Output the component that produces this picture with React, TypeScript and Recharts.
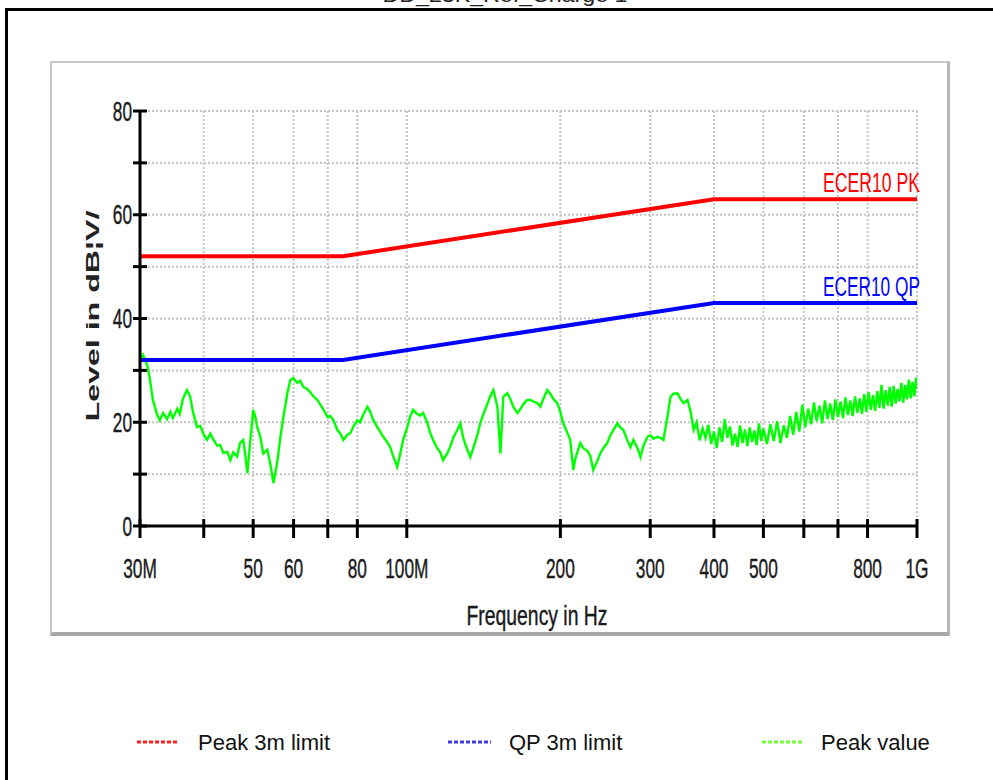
import React from "react";
import { LineChart, Line, XAxis, YAxis, CartesianGrid } from "recharts";

// axis ticks
const freqTicks = [30, 40, 50, 60, 70, 80, 100, 200, 300, 400, 500, 600, 700, 800, 1000];
const freqTickLabels: Record<number, string> = {
  30: "30M", 50: "50", 60: "60", 80: "80", 100: "100M",
  200: "200", 300: "300", 400: "400", 500: "500", 800: "800", 1000: "1G",
};
const levelTicks = [0, 10, 20, 30, 40, 50, 60, 70, 80];
const levelLabels = [0, 20, 40, 60, 80];

// ECE R10 limits (MHz, dBµV/m)
const limitFreqs = [30, 75, 400, 1000];
const peakLimit = [52, 52, 63, 63];
const qpLimit = [32, 32, 43, 43];

// measured peak trace (MHz)
const peakFreqs = [
  30.0, 30.4, 31.0, 31.4, 31.8, 32.4, 32.8, 33.3, 33.9, 34.4,
  34.8, 35.5, 35.9, 36.4, 37.1, 37.6, 38.1, 38.8, 39.4, 39.9,
  40.6, 41.2, 41.7, 42.5, 43.1, 43.7, 44.5, 45.1, 45.7, 46.5,
  47.1, 47.8, 48.2, 48.7, 49.3, 50.0, 50.5, 50.9, 51.6, 52.3,
  53.3, 54.0, 54.8, 55.8, 56.5, 57.3, 58.3, 59.1, 59.9, 61.0,
  61.8, 62.7, 63.8, 64.7, 65.6, 66.8, 67.7, 68.6, 69.9, 70.8,
  71.8, 73.1, 74.1, 75.1, 76.5, 77.5, 78.6, 80.0, 81.0, 82.2,
  83.7, 84.8, 85.9, 87.5, 88.7, 89.9, 91.5, 92.8, 94.0, 95.8,
  97.1, 98.4, 100.2, 101.6, 102.9, 104.8, 106.2, 107.7, 109.6, 111.1,
  112.6, 114.7, 116.3, 117.8, 120.0, 121.6, 123.3, 125.6, 127.3, 129.0,
  131.4, 133.2, 135.0, 137.5, 139.3, 141.2, 143.8, 145.8, 147.8, 150.5,
  152.6, 154.6, 157.4, 159.6, 161.7, 164.7, 166.9, 169.2, 172.3, 174.6,
  177.0, 180.2, 182.7, 185.2, 188.5, 191.1, 193.7, 197.2, 199.9, 202.6,
  206.3, 209.1, 212.0, 214.0, 218.8, 221.8, 225.8, 228.9, 232.0, 236.2,
  239.5, 242.8, 247.2, 250.6, 254.0, 258.6, 262.2, 265.8, 270.6, 274.4,
  278.1, 283.2, 287.1, 291.0, 296.3, 300.3, 304.4, 309.9, 314.1, 318.4,
  324.2, 328.7, 333.2, 339.2, 343.9, 348.6, 355.0,
  360, 365, 370, 375, 380, 385, 390, 395, 400, 405,
  410, 415, 420, 425, 430, 435, 440, 445, 450, 455,
  460, 465, 470, 475, 480, 485, 490, 495, 500,
  508, 516, 524, 532, 540, 548, 556, 564, 572, 580,
  588, 596, 604, 612, 620, 628, 636, 644, 652, 660,
  668, 676, 684, 692, 700, 708, 716, 724, 732, 740,
  748, 756, 764, 772, 780, 788, 796, 804, 812, 820,
  828, 836, 844, 852, 860, 868, 876, 884, 892, 900,
  908, 916, 924, 932, 940, 948, 956, 964, 972, 980,
  988, 996, 1000,
];
const peakLevels = [
  32, 33, 31, 28, 24.3, 21.5, 20.4, 21.8, 20.6, 22,
  20.8, 22.6, 21.6, 24.5, 26.2, 25, 22, 19.1, 19.3, 17.8,
  16.6, 17.8, 16.8, 15.5, 15.6, 14.1, 14.3, 12.7, 14.2, 13.4,
  16, 16.6, 14, 10.2, 16, 22.4, 21, 19.1, 17.4, 14,
  14.7, 12, 8.3, 12.7, 17, 21, 25.5, 28.1, 28.5, 27.6,
  28, 26.8, 26.4, 25.8, 25, 24.3, 23.4, 22.5, 21, 21.2,
  20.4, 18.5, 17.8, 16.6, 17.6, 17.9, 19.2, 20.4, 20, 21.5,
  23, 22, 20.5, 19.1, 18.2, 17.2, 16.2, 15.2, 13.5, 11.4,
  14, 16.6, 19, 21.2, 22.4, 21.6, 21.3, 21.8, 20, 18,
  16.6, 15, 14.2, 12.7, 14, 15.2, 17, 18.5, 19.8, 17,
  14.7, 13.3, 15, 17.5, 19.8, 21.5, 23.5, 25, 26.2, 23,
  14, 24.9, 25.6, 24.5, 23, 21.8, 22.5, 23.5, 24.3, 24.3,
  24, 23.7, 23, 24.5, 26.2, 25.5, 24.5, 23.7, 22, 19.8,
  18, 16.6, 10.8, 13, 16, 15, 14.5, 13.5, 10.8, 12.5,
  14, 15, 16, 17.5, 18.5, 19.8, 19, 18.5, 16.5, 15.2,
  16.6, 15, 13.3, 15.5, 17.2, 17.5, 16.8, 17.2, 17, 16.6,
  21, 24.9, 25.5, 25.6, 24.5, 23.7, 24.3,
  22, 18.5, 20, 16.5, 18.8, 17, 19.5, 15.8, 18.2, 15,
  19, 16.2, 20.6, 17, 19.2, 15.5, 17.8, 15.2, 19.4, 16,
  18.6, 15.4, 19, 16.2, 18.4, 15.6, 19.8, 16.4, 18.8,
  15.8, 19.6, 16.4, 20.2, 16, 19.4, 17, 21.2, 17.6, 22,
  18.2, 23.4, 19, 22.6, 19.6, 23.8, 20.2, 23.2, 19.8, 24.2,
  20.6, 23.6, 20.4, 24.4, 21, 24, 20.8, 24.8, 21.4, 24.2,
  21.2, 25, 21.8, 24.6, 21.6, 25.4, 22, 25.8, 22.4, 25.2,
  22.2, 26, 22.8, 27.2, 22.6, 26.2, 23.2, 26.8, 23, 27,
  23.6, 26.4, 24, 27.6, 23.8, 27.2, 24.4, 28.2, 24.6, 27.8,
  25, 28.6, 26.5,
];

const peakLimitData = limitFreqs.map((f, i) => ({ f, v: peakLimit[i] }));
const qpLimitData = limitFreqs.map((f, i) => ({ f, v: qpLimit[i] }));
const peakData = peakFreqs.map((f, i) => ({ f, v: peakLevels[i] }));

const PLOT_LEFT = 140;
const PLOT_BOTTOM = 526;
const FONT = '"Liberation Sans", Arial, sans-serif';

function YTick(props: any) {
  const { y, payload } = props;
  const v = payload.value;
  return (
    <g>
      <line x1={PLOT_LEFT - 7} x2={PLOT_LEFT + 7} y1={y} y2={y} stroke="#000" strokeWidth={3} />
      {levelLabels.includes(v) && (
        <text
          transform={`translate(${PLOT_LEFT - 8},${y + 9.5}) scale(0.64,1)`}
          textAnchor="end"
          fontSize={27}
          fontFamily={FONT}
          fill="#1a1a1a"
          stroke="#1a1a1a"
          strokeWidth={0.4}
        >
          {v}
        </text>
      )}
    </g>
  );
}

function XTick(props: any) {
  const { x, payload } = props;
  const label = freqTickLabels[payload.value];
  return (
    <g>
      <line x1={x} x2={x} y1={PLOT_BOTTOM - 7} y2={PLOT_BOTTOM + 12} stroke="#000" strokeWidth={3} />
      {label && (
        <text
          transform={`translate(${x},${578}) scale(0.64,1)`}
          textAnchor="middle"
          fontSize={27}
          fontFamily={FONT}
          fill="#1a1a1a"
          stroke="#1a1a1a"
          strokeWidth={0.4}
        >
          {label}
        </text>
      )}
    </g>
  );
}

const endLabel = (text: string, color: string, last: number) => (props: any) => {
  if (props.index !== last) return null;
  return (
    <text
      x={props.x + 3}
      y={props.y - 7}
      textAnchor="end"
      fontSize={27}
      fontFamily={FONT}
      fill={color}
      textLength={97}
      lengthAdjust="spacingAndGlyphs"
    >
      {text}
    </text>
  );
};

export default function App() {
  return (
    <div style={{ position: "absolute", left: 0, top: 0, width: 993, height: 780, overflow: "hidden", background: "#fff" }}>
      <div style={{ position: "absolute", left: 5, top: 8, width: 1100, height: 900, border: "3px solid #000" }} />
      <div
        style={{
          position: "absolute", left: 50, top: 61, width: 900, height: 575, boxSizing: "border-box",
          borderTop: "2px solid #c8c8c8", borderLeft: "2px solid #c8c8c8",
          borderRight: "3px solid #b4b4b4", borderBottom: "4px solid #a8a8a8",
        }}
      />
      <div style={{ position: "absolute", left: 0, top: 0 }}>
        <LineChart width={993} height={640} margin={{ top: 111, right: 76, bottom: 84, left: 80 }}>
          <CartesianGrid stroke="#c4c4c4" strokeWidth={2} strokeDasharray="2 2" />
          <XAxis
            type="number"
            dataKey="f"
            scale="log"
            domain={[30, 1000]}
            ticks={freqTicks}
            interval={0}
            allowDataOverflow
            height={30}
            tickLine={false}
            axisLine={{ stroke: "#000", strokeWidth: 3 }}
            tick={<XTick />}
          />
          <YAxis
            type="number"
            domain={[0, 80]}
            ticks={levelTicks}
            interval={0}
            width={60}
            tickLine={false}
            axisLine={{ stroke: "#000", strokeWidth: 3 }}
            tick={<YTick />}
          />
          <Line
            data={peakData}
            dataKey="v"
            stroke="#00ff00"
            strokeWidth={2.4}
            dot={false}
            isAnimationActive={false}
          />
          <Line
            data={peakLimitData}
            dataKey="v"
            stroke="#ff0000"
            strokeWidth={4}
            dot={false}
            isAnimationActive={false}
            label={endLabel("ECER10 PK", "#ff0000", peakLimitData.length - 1)}
          />
          <Line
            data={qpLimitData}
            dataKey="v"
            stroke="#0000ff"
            strokeWidth={4}
            dot={false}
            isAnimationActive={false}
            label={endLabel("ECER10 QP", "#0000ff", qpLimitData.length - 1)}
          />
        </LineChart>
      </div>
      <svg width={993} height={780} style={{ position: "absolute", left: 0, top: 0, pointerEvents: "none" }}>
        <text x={505} y={2} textAnchor="middle" fontSize={20} fontFamily={FONT} fill="#222" textLength={245} lengthAdjust="spacingAndGlyphs">
          DD_23K_Ref_Charge 1
        </text>
        <text
          transform="translate(92,316) rotate(-90)"
          x={0}
          y={7}
          textAnchor="middle"
          fontSize={18}
          fontWeight="bold"
          fontFamily={FONT}
          fill="#222"
          textLength={211}
          lengthAdjust="spacingAndGlyphs"
        >
          Level in dB¦V/
        </text>
        <text
          x={537}
          y={625}
          textAnchor="middle"
          fontSize={27}
          fontFamily={FONT}
          fill="#1a1a1a"
          stroke="#1a1a1a"
          strokeWidth={0.4}
          textLength={141}
          lengthAdjust="spacingAndGlyphs"
        >
          Frequency in Hz
        </text>
        <line x1={137} x2={178} y1={742} y2={742} stroke="#ff2020" strokeWidth={3} strokeDasharray="4 2" />
        <text x={198} y={750} fontSize={22} fontFamily={FONT} fill="#111">Peak 3m limit</text>
        <line x1={448} x2={491} y1={742} y2={742} stroke="#4040e0" strokeWidth={3} strokeDasharray="4 2" />
        <text x={509} y={750} fontSize={22} fontFamily={FONT} fill="#111">QP 3m limit</text>
        <line x1={762} x2={803} y1={742} y2={742} stroke="#70ff38" strokeWidth={3} strokeDasharray="4 2" />
        <text x={821} y={750} fontSize={22} fontFamily={FONT} fill="#111">Peak value</text>
      </svg>
    </div>
  );
}
